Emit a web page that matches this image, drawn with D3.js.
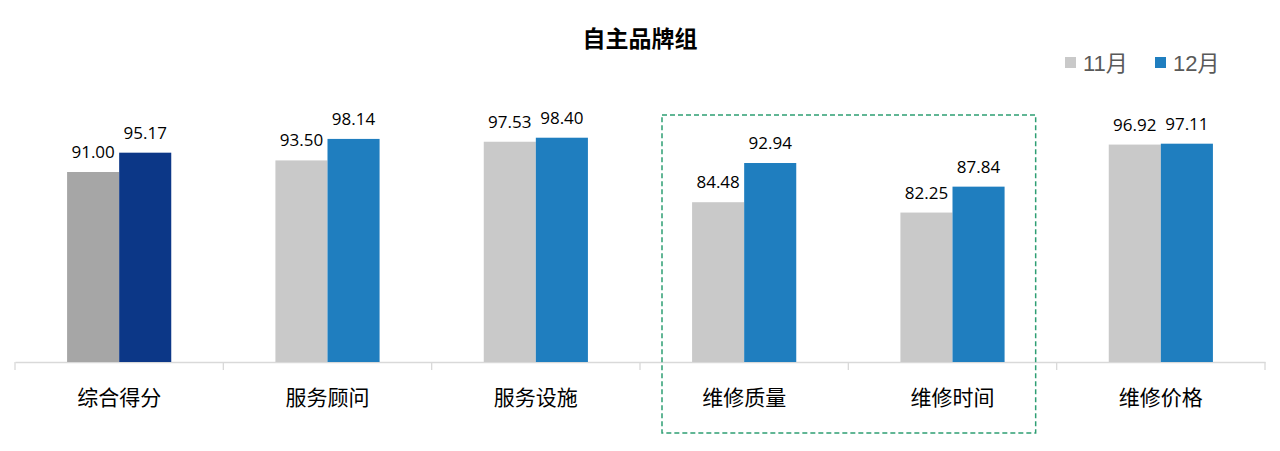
<!DOCTYPE html>
<html><head><meta charset="utf-8">
<script src="https://cdn.jsdelivr.net/npm/d3@7"></script>
<style>body{margin:0;background:#fff;}svg{display:block;}</style>
</head><body>
<script>
const title = "自主品牌组";
const categories = ["综合得分","服务顾问","服务设施","维修质量","维修时间","维修价格"];
const seriesNames = ["11月","12月"];
const nov = [91.00, 93.50, 97.53, 84.48, 82.25, 96.92];
const dec = [95.17, 98.14, 98.40, 92.94, 87.84, 97.11];
const highlighted = ["维修质量","维修时间"];

const W = 1280, H = 451;
const svg = d3.select("body").append("svg").attr("width", W).attr("height", H);

const x = d3.scaleBand().domain(categories).range([15, 1265]).paddingInner(0).paddingOuter(0);
const inner = d3.scaleBand().domain(seriesNames).range([0, x.bandwidth()]).paddingInner(0).paddingOuter(1);
const y = d3.scaleLinear().domain([50, 100]).range([362, 130.3]);

const colors = {
  "11月": (i) => i === 0 ? "#a6a6a6" : "#c9c9c9",
  "12月": (i) => i === 0 ? "#0c3787" : "#1f7ebf"
};

// title
svg.append("text").attr("x", 640).attr("y", 47).attr("text-anchor", "middle")
  .attr("font-family", "'Noto Sans CJK SC', sans-serif").attr("font-weight", "bold")
  .attr("font-size", 23).attr("fill", "#000").text(title);

// legend
const legend = svg.append("g");
const legX = [1065, 1155];
seriesNames.forEach((s, k) => {
  legend.append("rect").attr("x", legX[k]).attr("y", 57).attr("width", 11).attr("height", 11)
    .attr("fill", k === 0 ? "#c9c9c9" : "#1f7ebf");
  legend.append("text").attr("x", legX[k] + 18).attr("y", 71)
    .attr("font-family", "'Liberation Sans', Arial, 'Noto Sans CJK SC', sans-serif")
    .attr("font-size", 22).attr("fill", "#595959").text(s);
});

// axis
const xAxis = d3.axisBottom(x).tickSize(0).tickFormat(d => d);
const ax = svg.append("g").attr("transform", "translate(0,362)").call(xAxis);
ax.select(".domain").attr("stroke", "#d9d9d9").attr("stroke-width", 1.3);
ax.selectAll(".tick text").attr("font-family", "'Noto Sans CJK SC', sans-serif")
  .attr("font-size", 21).attr("fill", "#000").attr("dy", 0).attr("y", 43);
// boundary ticks
const bounds = categories.map(c => x(c)).concat([x.range()[1]]);
svg.append("g").selectAll("line").data(bounds).join("line")
  .attr("x1", d => d).attr("x2", d => d).attr("y1", 362).attr("y2", 370)
  .attr("stroke", "#d9d9d9").attr("stroke-width", 1.3);

// bars
const data = [];
categories.forEach((c, i) => {
  data.push({c, i, s: "11月", v: nov[i]});
  data.push({c, i, s: "12月", v: dec[i]});
});
const g = svg.append("g");
g.selectAll("rect").data(data).join("rect")
  .attr("x", d => x(d.c) + inner(d.s))
  .attr("y", d => y(d.v))
  .attr("width", inner.bandwidth())
  .attr("height", d => y.range()[0] - y(d.v))
  .attr("fill", d => colors[d.s](d.i));

g.selectAll("text").data(data).join("text")
  .attr("x", d => x(d.c) + inner(d.s) + inner.bandwidth() / 2)
  .attr("y", d => y(d.v) - 14)
  .attr("text-anchor", "middle")
  .attr("font-family", "'Open Sans', 'Noto Sans', sans-serif")
  .attr("font-size", 17).attr("fill", "#000")
  .text(d => d.v.toFixed(2));

// highlight box
const hx0 = x(highlighted[0]) + 22;
const hx1 = x(highlighted[1]) + x.bandwidth() - 21;
svg.append("rect").attr("x", hx0).attr("y", 115).attr("width", hx1 - hx0).attr("height", 318)
  .attr("fill", "none").attr("stroke", "#2e9e73").attr("stroke-width", 1.5)
  .attr("stroke-dasharray", "5,3");
</script>
</body></html>
